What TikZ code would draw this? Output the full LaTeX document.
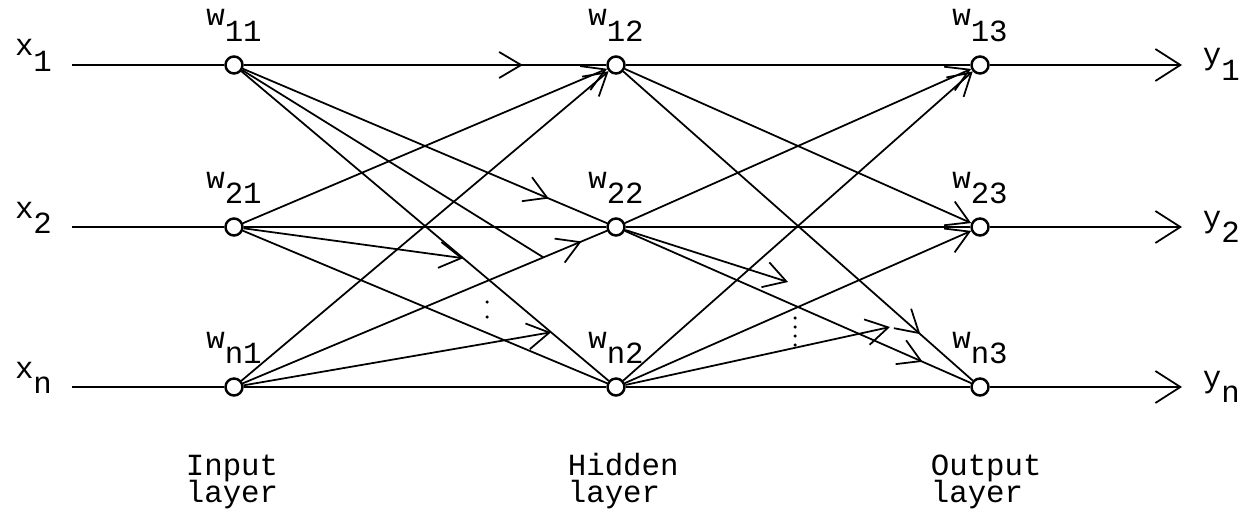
\documentclass[tikz,border=0pt]{standalone}
\usepackage{fontspec}
\usetikzlibrary{arrows.meta,calc,decorations.markings}
\newfontfamily\typew{Liberation Mono}
\newcommand{\lsub}[1]{\raisebox{-0.5em}{#1}}
\newcommand{\layerfont}{\typew\fontsize{17.5}{15.8}\selectfont\lineskiplimit=-20pt\relax}
\tikzset{
  neuron/.style   = {circle, draw, line width=1.4pt, minimum size=3.4mm, inner sep=0pt},
  wlbl/.style     = {anchor=base, inner sep=0pt},
  xlbl/.style     = {anchor=base, inner sep=0pt},
  ylbl/.style     = {anchor=base west, inner sep=0pt},
  layertxt/.style = {anchor=north west, align=left, inner sep=0pt, font=\layerfont},
  tipin/.tip      = {Straight Barb[length=4.4mm, width=5.2mm]},
  tipout/.tip     = {Straight Barb[length=5mm, width=6.4mm]},
  midarr/.style   = {postaction={decorate},
                     decoration={markings, mark=at position #1 with {\arrow{tipin}}}},
}

\begin{document}
\begin{tikzpicture}[font=\typew\fontsize{17.5}{15.4}\selectfont, line width=1pt]
  \useasboundingbox (0,0) rectangle (24.88,10.24);
  % units, weights, inputs and outputs per row
  \foreach \r/\y in {1/8.94, 2/5.70, n/2.50} {
    \node[neuron] (I\r) at (4.68,\y) {};
    \node[neuron] (H\r) at (12.32,\y) {};
    \node[neuron] (O\r) at (19.60,\y) {};
    \node[wlbl] (wI\r) at ([yshift=7.8mm]I\r.center) {w\lsub{\r1}};
    \node[wlbl] (wH\r) at ([yshift=7.8mm]H\r.center) {w\lsub{\r2}};
    \node[wlbl] (wO\r) at ([yshift=7.8mm]O\r.center) {w\lsub{\r3}};
    \node[xlbl] (x\r) at (0.67,\y+0.18) {x\lsub{\r}};
    \node[ylbl] (y\r) at (24.04,\y) {y\lsub{\r}};
    \coordinate (s\r) at (1.44,\y);
    \coordinate (e\r) at (23.64,\y);
    \draw (s\r) -- (I\r);
    \draw[-tipout] (O\r) -- (e\r);
  }
  % input -> hidden
  \draw[midarr=0.77] (I1) -- (H1);
  \draw[midarr=0.84] (I1) -- (H2);
  \draw (I1) -- (Hn);
  \draw[-tipin] (I2) -- (H1);
  \draw (I2) -- (H2);
  \draw (I2) -- (Hn);
  \draw[-tipin] (In) -- (H1);
  \draw[midarr=0.93] (In) -- (H2);
  \draw (In) -- (Hn);
  % lines toward the units left out
  \coordinate (pa) at ($(In)!0.81!(H2)$);
  \coordinate (pb) at ($(I1)!0.60!(Hn)$);
  \coordinate (pc) at ($(I1)!0.83!(Hn)$);
  \draw (I1) -- (pa);
  \draw[-tipin] (I2) -- (pb);
  \draw[-tipin] (In) -- (pc);
  % hidden -> output
  \draw (H1) -- (O1);
  \draw[-tipin] (H1) -- (O2);
  \draw[midarr=0.85] (H1) -- (On);
  \draw[-tipin] (H2) -- (O1);
  \draw (H2) -- (O2);
  \draw[midarr=0.86] (H2) -- (On);
  \draw[-tipin] (Hn) -- (O1);
  \draw[-tipin] (Hn) -- (O2);
  \draw (Hn) -- (On);
  \coordinate (pd) at (15.76,4.60);
  \coordinate (pe) at (17.80,3.70);
  \draw[-tipin] (H2) -- (pd);
  \draw[-tipin] (Hn) -- (pe);
  % dots
  \foreach \d in {4.20,3.90} \fill (9.74,\d) circle (0.35mm);
  \foreach \d in {3.88,3.70,3.52,3.34} \fill (15.90,\d) circle (0.35mm);
  % layer names
  \node[layertxt] (lin)  at (3.70,1.20)  {\vphantom{d}Input\\layer};
  \node[layertxt] (lhid) at (11.34,1.20) {\vphantom{d}Hidden\\layer};
  \node[layertxt] (lout) at (18.60,1.20) {\vphantom{d}Output\\layer};
\end{tikzpicture}
\end{document}
